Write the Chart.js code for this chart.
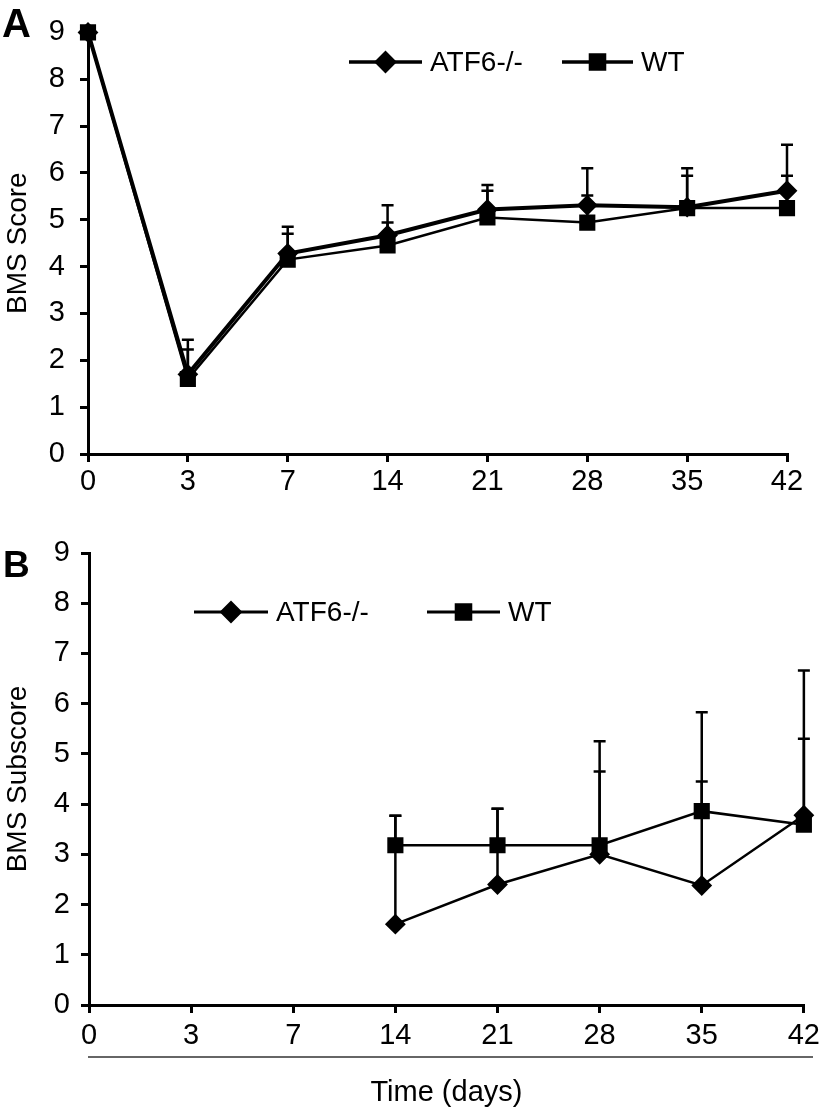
<!DOCTYPE html>
<html>
<head>
<meta charset="utf-8">
<script src="https://cdn.jsdelivr.net/npm/chart.js@4.4.1/dist/chart.umd.min.js"></script>
<style>
  body { margin: 0; background: #fff; }
  #page { position: relative; width: 826px; height: 1116px; overflow: hidden; }
  .panel { position: absolute; left: 0; width: 826px; }
  .tag { position: absolute; font-family: 'Liberation Sans', Arial, sans-serif; font-weight: bold; line-height: 1; color: #000; }
</style>
</head>
<body>
<div id="page">
  <div class="panel" style="top:0;height:520px"><canvas id="chartA"></canvas></div>
  <div class="panel" style="top:520px;height:596px"><canvas id="chartB"></canvas></div>
  <div class="tag" style="left:2px;top:3px;font-size:40px">A</div>
  <div class="tag" style="left:3px;top:546px;font-size:37px">B</div>
</div>
<script>
// days after injury
const days = ['0', '3', '7', '14', '21', '28', '35', '42'];

// A: BMS score, mean and upper error
const bmsKo = [9, 1.7, 4.28, 4.67, 5.22, 5.31, 5.27, 5.62];
const bmsKoErr = [0, 0.74, 0.57, 0.64, 0.52, 0.79, 0.83, 0.98];
const bmsWt = [9, 1.6, 4.15, 4.45, 5.05, 4.94, 5.25, 5.25];
const bmsWtErr = [0, 0.63, 0.55, 0.49, 0.57, 0.58, 0.69, 0.69];

// B: BMS subscore (only from day 14)
const subKo = [null, null, null, 1.61, 2.40, 3.00, 2.38, 3.78];
const subKoErr = [null, null, null, 2.16, 1.51, 2.25, 3.45, 2.88];
const subWt = [null, null, null, 3.18, 3.18, 3.18, 3.86, 3.59];
const subWtErr = [null, null, null, 0.59, 0.73, 1.47, 0.59, 1.71];

const FONT = "'Liberation Sans', Arial, sans-serif";
Chart.defaults.font.family = FONT;
Chart.defaults.font.size = 29;
Chart.defaults.color = '#000';

// upward-only error bars, drawn under the markers
const errorBars = {
    id: 'errorBars',
    beforeDatasetsDraw(chart, args, opts) {
        const ctx = chart.ctx;
        const y = chart.scales.y;
        chart.data.datasets.forEach((ds, di) => {
            const meta = chart.getDatasetMeta(di);
            ds.errors.forEach((e, i) => {
                const v = ds.data[i];
                if (v == null || !e) return;
                const px = meta.data[i].x;
                const y0 = y.getPixelForValue(v);
                const y1 = y.getPixelForValue(v + e);
                ctx.save();
                ctx.strokeStyle = '#000';
                ctx.lineWidth = opts.width;
                ctx.beginPath();
                ctx.moveTo(px, y0);
                ctx.lineTo(px, y1);
                ctx.moveTo(px - opts.cap, y1);
                ctx.lineTo(px + opts.cap, y1);
                ctx.stroke();
                ctx.restore();
            });
        });
    }
};

function marker(ctx, style, x, y, r) {
    ctx.beginPath();
    if (style === 'rectRot') {
        ctx.moveTo(x - r, y);
        ctx.lineTo(x, y - r);
        ctx.lineTo(x + r, y);
        ctx.lineTo(x, y + r);
    } else {
        const s = r * Math.SQRT1_2;
        ctx.rect(x - s, y - s, 2 * s, 2 * s);
    }
    ctx.closePath();
    ctx.fill();
    ctx.stroke();
}

// legend with line + marker, floating inside the plot
const lineLegend = {
    id: 'lineLegend',
    afterDraw(chart, args, opts) {
        const ctx = chart.ctx;
        chart.data.datasets.forEach((ds, i) => {
            const it = opts.items[i];
            ctx.save();
            ctx.strokeStyle = '#000';
            ctx.fillStyle = '#000';
            ctx.lineWidth = opts.lineWidth;
            ctx.beginPath();
            ctx.moveTo(it.x0, opts.y);
            ctx.lineTo(it.x1, opts.y);
            ctx.stroke();
            ctx.lineWidth = 2;
            marker(ctx, ds.pointStyle, (it.x0 + it.x1) / 2, opts.y, ds.pointRadius + 1);
            ctx.font = '28px ' + FONT;
            ctx.textBaseline = 'middle';
            ctx.fillText(ds.label, it.x1 + 8, opts.y + 1);
            ctx.restore();
        });
    }
};

// thin rule between tick labels and the axis title
const underline = {
    id: 'underline',
    afterDraw(chart, args, opts) {
        if (!opts.offset) return;
        const ctx = chart.ctx;
        const y = chart.chartArea.bottom + opts.offset;
        ctx.save();
        ctx.strokeStyle = '#333';
        ctx.lineWidth = 1.3;
        ctx.beginPath();
        ctx.moveTo(opts.x0, y);
        ctx.lineTo(opts.x1, y);
        ctx.stroke();
        ctx.restore();
    }
};

function makeChart(id, ko, koErr, wt, wtErr, p) {
    const ctx = document.getElementById(id).getContext('2d');
    return new Chart(ctx, {
        type: 'line',
        data: {
            labels: days,
            datasets: [
                {
                    label: 'ATF6-/-',
                    data: ko,
                    errors: koErr,
                    borderColor: '#000',
                    backgroundColor: '#000',
                    borderWidth: p.koWidth,
                    pointStyle: 'rectRot',
                    pointRadius: 9,
                    pointBorderWidth: 2,
                    pointBackgroundColor: '#000',
                    pointBorderColor: '#000',
                    spanGaps: false,
                    clip: false
                },
                {
                    label: 'WT',
                    data: wt,
                    errors: wtErr,
                    borderColor: '#000',
                    backgroundColor: '#000',
                    borderWidth: p.wtWidth,
                    pointStyle: 'rect',
                    pointRadius: 10,
                    pointBorderWidth: 2,
                    pointBackgroundColor: '#000',
                    pointBorderColor: '#000',
                    spanGaps: false,
                    clip: false
                }
            ]
        },
        options: {
            responsive: true,
            maintainAspectRatio: false,
            animation: false,
            layout: { padding: { left: 0, right: p.right, top: p.top, bottom: 0 } },
            scales: {
                x: {
                    offset: false,
                    grid: { display: true, drawOnChartArea: false, tickLength: 8, lineWidth: 3, color: '#000' },
                    border: { display: true, width: 3, color: '#000' },
                    ticks: { padding: p.xPad, maxRotation: 0, autoSkip: false },
                    title: {
                        display: !!p.xTitle,
                        text: p.xTitle || '',
                        font: { size: 29 },
                        padding: { top: 0, bottom: 6 }
                    },
                    afterFit: s => { s.height = p.xHeight; }
                },
                y: {
                    min: 0,
                    max: 9,
                    ticks: { stepSize: 1, padding: p.yPad },
                    grid: { display: true, drawOnChartArea: false, tickLength: 8, lineWidth: 3, color: '#000' },
                    border: { display: true, width: 3, color: '#000' },
                    title: { display: true, text: p.yTitle, font: { size: 28 }, padding: { top: 1, bottom: 0 } },
                    afterFit: s => { s.width = p.left; }
                }
            },
            plugins: {
                legend: { display: false },
                tooltip: { enabled: false },
                errorBars: { width: 2.5, cap: 6 },
                lineLegend: p.legend,
                underline: p.rule || {}
            }
        },
        plugins: [errorBars, lineLegend, underline]
    });
}

makeChart('chartA', bmsKo, bmsKoErr, bmsWt, bmsWtErr, {
    koWidth: 4, wtWidth: 2.5,
    left: 88, right: 39, top: 21, xHeight: 66, xPad: 3, yPad: 15,
    yTitle: 'BMS Score',
    legend: { y: 62, lineWidth: 3.5, items: [{ x0: 349, x1: 422 }, { x0: 562, x1: 633 }] }
});

makeChart('chartB', subKo, subKoErr, subWt, subWtErr, {
    koWidth: 2.5, wtWidth: 2.5,
    left: 89, right: 20, top: 33, xHeight: 111, xPad: 6, yPad: 11,
    yTitle: 'BMS Subscore',
    xTitle: 'Time (days)',
    legend: { y: 92, lineWidth: 3, items: [{ x0: 194, x1: 268 }, { x0: 427, x1: 500 }] },
    rule: { offset: 52, x0: 88, x1: 813 }
});
</script>
</body>
</html>
